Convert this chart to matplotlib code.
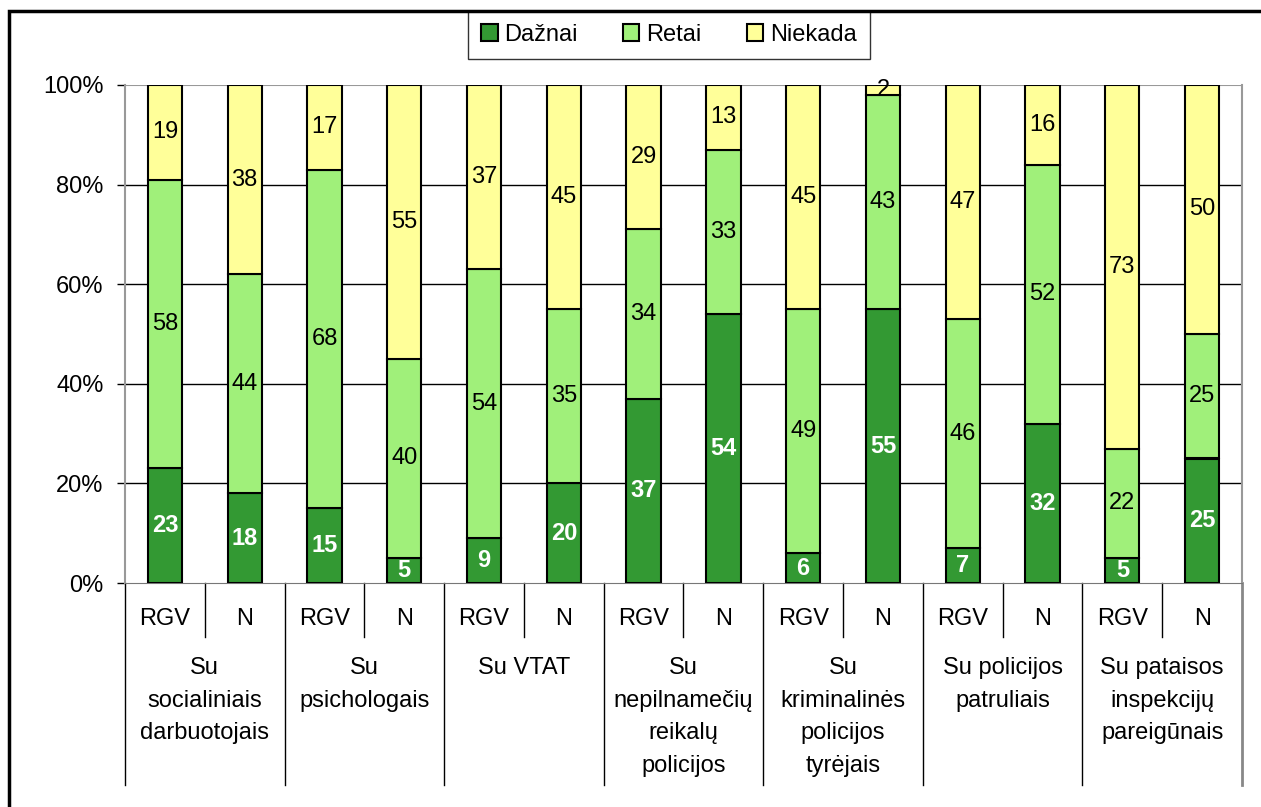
import matplotlib.pyplot as plt
from matplotlib.patches import Rectangle
from matplotlib.transforms import blended_transform_factory
import numpy as np

plt.rcParams['font.family'] = ['Liberation Sans', 'DejaVu Sans']

# Duomenys (procentai)
groups = ["Su\nsocialiniais\ndarbuotojais", "Su\npsichologais", "Su VTAT",
          "Su\nnepilnamečių\nreikalų\npolicijos", "Su\nkriminalinės\npolicijos\ntyrėjais",
          "Su policijos\npatruliais", "Su pataisos\ninspekcijų\npareigūnais"]
subs = ["RGV", "N"]
daznai = [23, 18, 15, 5, 9, 20, 37, 54, 6, 55, 7, 32, 5, 25]
retai = [58, 44, 68, 40, 54, 35, 34, 33, 49, 43, 46, 52, 22, 25]
niekada = [19, 38, 17, 55, 37, 45, 29, 13, 45, 2, 47, 16, 73, 50]

W, H = 1261, 807
FS = 17
fig = plt.figure(figsize=(W / 100, H / 100), dpi=100)
ax = fig.add_axes([125 / W, (H - 583) / H, (1242 - 125) / W, (583 - 85) / H])

x = np.arange(len(daznai))
bw = 0.43
colors = ["#339933", "#A0F07A", "#FFFF99"]
names = ["Dažnai", "Retai", "Niekada"]
bottom = np.zeros(len(x))
for vals, c, n in zip([daznai, retai, niekada], colors, names):
    vals = np.array(vals, dtype=float)
    ax.bar(x, vals, bw, bottom=bottom, color=c, edgecolor="black", linewidth=1.5,
           label=n, zorder=3)
    for xi, b, v in zip(x, bottom, vals):
        if c == colors[0]:
            ax.text(xi, b + v / 2, f"{int(v)}", ha="center", va="center",
                    color="white", fontweight="bold", fontsize=FS, zorder=4)
        else:
            ax.text(xi, b + v / 2, f"{int(v)}", ha="center", va="center",
                    color="black", fontsize=FS, zorder=4)
    bottom += vals

ax.set_xlim(-0.5, len(x) - 0.5)
ax.set_ylim(0, 100)
ax.set_yticks([0, 20, 40, 60, 80, 100])
ax.set_yticklabels(["0%", "20%", "40%", "60%", "80%", "100%"], fontsize=FS)
ax.set_xticks([])
ax.tick_params(axis="y", length=5.5, width=1, pad=10)
for yv in [20, 40, 60, 80]:
    ax.axhline(yv, color="black", linewidth=1, zorder=1)
ax.axhline(100, color="#999999", linewidth=1.5, zorder=1)
ax.spines["top"].set_visible(False)
ax.spines["left"].set_color("#999999")
ax.spines["right"].set_color("#999999")
ax.spines["bottom"].set_color("#777777")
ax.spines["left"].set_linewidth(1.5)
ax.spines["right"].set_linewidth(1.5)

# kategorijų ašis
tr = blended_transform_factory(ax.transData, ax.transAxes)
ph = 583 - 85
for i in range(len(x)):
    ax.text(i, -(619 - 583) / ph, subs[i % 2], transform=tr, ha="center",
            va="center", fontsize=FS)
for i in range(len(x) + 1):
    xe = i - 0.5
    col = "#888888" if i == len(x) else "black"
    lw = 2 if i == len(x) else 1
    if i % 2 == 0:
        ax.plot([xe, xe], [0, -(785 - 583) / ph], transform=tr, color=col,
                linewidth=lw, clip_on=False)
    else:
        ax.plot([xe, xe], [0, -(637 - 583) / ph], transform=tr, color=col,
                linewidth=lw, clip_on=False)
for g, name in enumerate(groups):
    ax.text(2 * g + 0.5, -(657 - 583) / ph, name, transform=tr, ha="center",
            va="top", fontsize=FS, linespacing=1.62)

leg = ax.legend(loc="upper center", bbox_to_anchor=(0.5 * (470 + 868) / W, 1 - 11 / H),
                bbox_transform=fig.transFigure, ncol=3, fontsize=FS, frameon=True,
                fancybox=False, edgecolor="black", handlelength=0.7, handleheight=0.7,
                handletextpad=0.3, columnspacing=1.9, borderpad=0.55, borderaxespad=0)
leg.get_frame().set_linewidth(1)

fig.patches.append(Rectangle((9 / W, -0.05), 1.0, 1.05 - 11 / H, transform=fig.transFigure,
                             fill=False, edgecolor="black", linewidth=2.5))

fig.savefig("out.png", dpi=100)
